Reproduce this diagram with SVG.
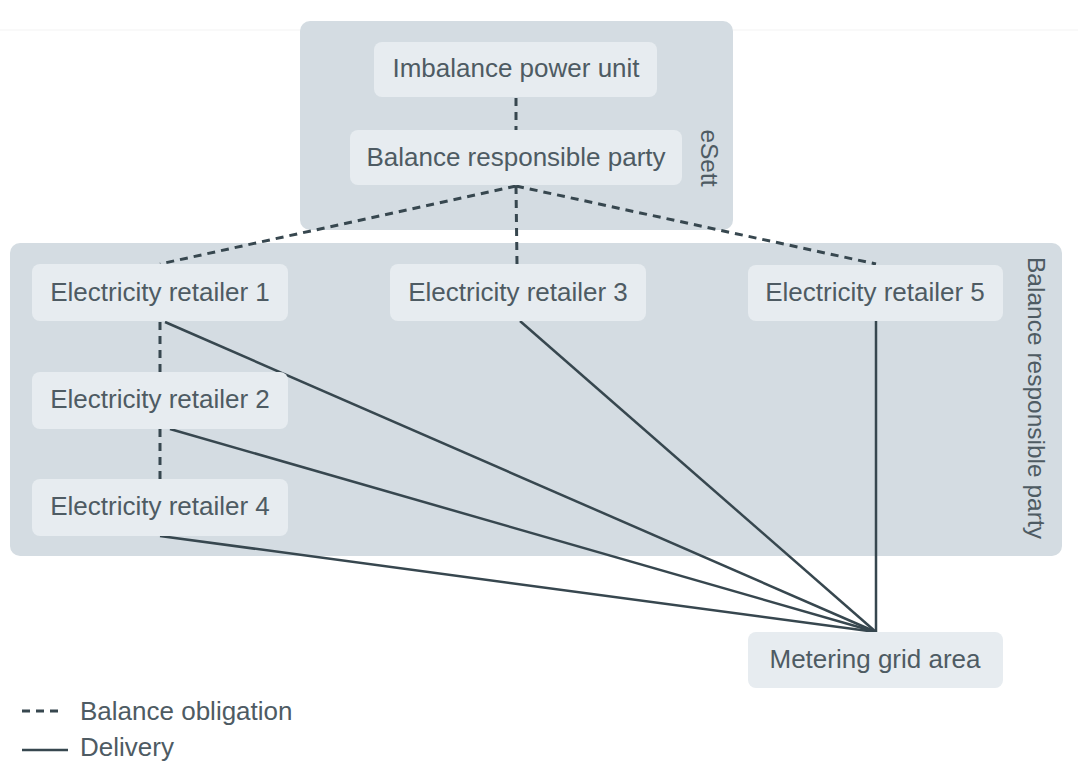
<svg xmlns="http://www.w3.org/2000/svg" width="1078" height="763" viewBox="0 0 1078 763">
<style>
.container{fill:#d4dce2}
.node{fill:#e7ecf0}
.t{font-family:"Liberation Sans",Arial,sans-serif;font-size:26px;fill:#4e5b63}
.lbl{font-family:"Liberation Sans",Arial,sans-serif;font-size:24.5px;fill:#4e5b63}
.dash{stroke:#37474f;stroke-width:3;stroke-dasharray:8 6;fill:none}
.solid{stroke:#37474f;stroke-width:2.5;fill:none}
</style>
<rect width="1078" height="763" fill="#ffffff"/>
<line x1="0" y1="30" x2="1078" y2="30" stroke="#f3f3f3" stroke-width="1"/>
<g id="eSett">
<rect class="container" x="300" y="21" width="433" height="209" rx="10"/>
<text class="lbl" x="701" y="158" text-anchor="middle" transform="rotate(90 701 158)">eSett</text>
</g>
<g id="brp-area">
<rect class="container" x="10" y="243" width="1052" height="313" rx="10"/>
<text class="lbl" x="1028" y="398" text-anchor="middle" transform="rotate(90 1028 398)">Balance responsible party</text>
</g>
<g id="connectors">
<line class="dash" x1="516" y1="98" x2="516" y2="130"/>
<line class="dash" x1="516" y1="186" x2="160" y2="264"/>
<line class="dash" x1="516" y1="186" x2="517" y2="264"/>
<line class="dash" x1="516" y1="186" x2="876" y2="264"/>
<line class="dash" x1="160" y1="322" x2="160" y2="372"/>
<line class="dash" x1="160" y1="429" x2="160" y2="479"/>
<line class="solid" x1="165" y1="322" x2="876" y2="632"/>
<line class="solid" x1="170" y1="429" x2="876" y2="632"/>
<line class="solid" x1="160" y1="536" x2="876" y2="632"/>
<line class="solid" x1="520" y1="321" x2="876" y2="632"/>
<line class="solid" x1="876" y1="321" x2="876" y2="632"/>
</g>
<g id="imbalance-power-unit">
<rect class="node" x="374" y="42" width="283" height="55" rx="8"/>
<text class="t" x="516" y="77" text-anchor="middle">Imbalance power unit</text>
</g>
<g id="balance-responsible-party">
<rect class="node" x="350" y="130" width="332" height="55" rx="8"/>
<text class="t" x="516" y="166" text-anchor="middle">Balance responsible party</text>
</g>
<g id="retailer-1">
<rect class="node" x="32" y="264" width="256" height="57" rx="8"/>
<text class="t" x="160" y="301" text-anchor="middle">Electricity retailer 1</text>
</g>
<g id="retailer-2">
<rect class="node" x="32" y="372" width="256" height="57" rx="8"/>
<text class="t" x="160" y="408" text-anchor="middle">Electricity retailer 2</text>
</g>
<g id="retailer-4">
<rect class="node" x="32" y="479" width="256" height="57" rx="8"/>
<text class="t" x="160" y="515" text-anchor="middle">Electricity retailer 4</text>
</g>
<g id="retailer-3">
<rect class="node" x="390" y="264" width="256" height="57" rx="8"/>
<text class="t" x="518" y="301" text-anchor="middle">Electricity retailer 3</text>
</g>
<g id="retailer-5">
<rect class="node" x="748" y="265" width="255" height="56" rx="8"/>
<text class="t" x="875" y="301" text-anchor="middle">Electricity retailer 5</text>
</g>
<g id="metering-grid-area">
<rect class="node" x="748" y="632" width="255" height="56" rx="8"/>
<text class="t" x="875" y="668" text-anchor="middle">Metering grid area</text>
</g>
<g id="legend">
<line class="dash" x1="22" y1="711" x2="62" y2="711" stroke-dasharray="8 7.5"/>
<text class="t" x="80" y="720">Balance obligation</text>
<line class="solid" x1="22" y1="750" x2="68" y2="750"/>
<text class="t" x="80" y="756">Delivery</text>
</g>
</svg>
